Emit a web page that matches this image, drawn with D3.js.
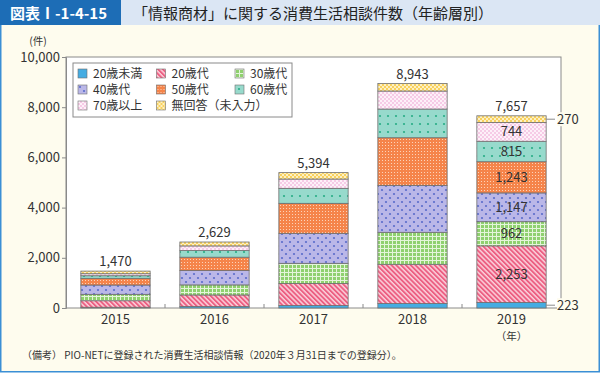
<!DOCTYPE html>
<html>
<head>
<meta charset="utf-8">
<script src="https://cdn.jsdelivr.net/npm/d3@7"></script>
<style>
  body { margin: 0; background: #ffffff; }
  text { font-family: "Noto Sans CJK JP", "Noto Sans", sans-serif; }
</style>
</head>
<body>
<div id="chart"></div>
<script>
// Chart data
var years = ["2015", "2016", "2017", "2018", "2019"];
var totals = [1470, 2629, 5394, 8943, 7657];
var under20 = [30, 60, 100, 180, 223];
var age20s = [260, 460, 880, 1560, 2253];
var age30s = [255, 400, 800, 1275, 962];
var age40s = [370, 570, 1195, 1872, 1147];
var age50s = [267, 534, 1195, 1897, 1243];
var age60s = [104, 263, 598, 1143, 815];
var age70plus = [80, 187, 370, 717, 744];
var noAnswer = [104, 155, 256, 299, 270];
var seriesNames = ["20歳未満", "20歳代", "30歳代", "40歳代", "50歳代", "60歳代", "70歳以上", "無回答（未入力）"];
var yTicks = [0, 2000, 4000, 6000, 8000, 10000];

var seriesValues = [under20, age20s, age30s, age40s, age50s, age60s, age70plus, noAnswer];
var fills = ["#45ace2", "url(#p20)", "url(#p30)", "url(#p40)", "url(#p50)", "url(#p60)", "url(#p70)", "url(#pna)"];

// SVG area
var svgWidth = 600;
var svgHeight = 374;

var svg = d3.select("#chart")
  .append("svg")
  .attr("width", svgWidth)
  .attr("height", svgHeight);

var defs = svg.append("defs");

// pink diagonal stripes
var p20 = defs.append("pattern").attr("id", "p20").attr("patternUnits", "userSpaceOnUse")
  .attr("width", 3.4).attr("height", 3.4).attr("patternTransform", "rotate(-45)");
p20.append("rect").attr("width", 3.4).attr("height", 3.4).attr("fill", "#fbd0db");
p20.append("rect").attr("width", 1.9).attr("height", 3.4).attr("fill", "#ec5f82");

// green gingham
var p30 = defs.append("pattern").attr("id", "p30").attr("patternUnits", "userSpaceOnUse")
  .attr("width", 4).attr("height", 4);
p30.append("rect").attr("width", 4).attr("height", 4).attr("fill", "#8fd06f");
p30.append("rect").attr("width", 4).attr("height", 1).attr("fill", "#e4f5da");
p30.append("rect").attr("width", 1).attr("height", 4).attr("fill", "#e4f5da");

// lavender with blue dots
var p40 = defs.append("pattern").attr("id", "p40").attr("patternUnits", "userSpaceOnUse")
  .attr("width", 8).attr("height", 8);
p40.append("rect").attr("width", 8).attr("height", 8).attr("fill", "#bab7e8");
p40.append("circle").attr("cx", 2).attr("cy", 2).attr("r", 1.1).attr("fill", "#5a6ccb");
p40.append("circle").attr("cx", 6).attr("cy", 6).attr("r", 1.1).attr("fill", "#5a6ccb");

// orange with fine white dots
var p50 = defs.append("pattern").attr("id", "p50").attr("patternUnits", "userSpaceOnUse")
  .attr("width", 3).attr("height", 3);
p50.append("rect").attr("width", 3).attr("height", 3).attr("fill", "#f5844a");
p50.append("rect").attr("x", 1).attr("y", 1).attr("width", 1).attr("height", 1).attr("fill", "#fcd2b8");

// teal with green dots
var p60 = defs.append("pattern").attr("id", "p60").attr("patternUnits", "userSpaceOnUse")
  .attr("width", 8).attr("height", 8);
p60.append("rect").attr("width", 8).attr("height", 8).attr("fill", "#97dacc");
p60.append("circle").attr("cx", 4).attr("cy", 4).attr("r", 1.1).attr("fill", "#27ad86");

// light pink with white pattern
var p70 = defs.append("pattern").attr("id", "p70").attr("patternUnits", "userSpaceOnUse")
  .attr("width", 4).attr("height", 4);
p70.append("rect").attr("width", 4).attr("height", 4).attr("fill", "#f6cbe6");
p70.append("rect").attr("x", 0).attr("y", 0).attr("width", 2).attr("height", 2).attr("fill", "#fdf0f8");
p70.append("rect").attr("x", 2).attr("y", 2).attr("width", 2).attr("height", 2).attr("fill", "#fdf0f8");

// yellow with white checks
var pna = defs.append("pattern").attr("id", "pna").attr("patternUnits", "userSpaceOnUse")
  .attr("width", 4).attr("height", 4);
pna.append("rect").attr("width", 4).attr("height", 4).attr("fill", "#f8d15e");
pna.append("rect").attr("x", 0).attr("y", 0).attr("width", 2).attr("height", 2).attr("fill", "#fdf0c4");
pna.append("rect").attr("x", 2).attr("y", 2).attr("width", 2).attr("height", 2).attr("fill", "#fdf0c4");

// Background panel and title bar
svg.append("rect")
  .attr("x", 0.75).attr("y", 0.75)
  .attr("width", svgWidth - 1.5).attr("height", svgHeight - 3)
  .attr("fill", "#fefcee")
  .attr("stroke", "#3b8fd5").attr("stroke-width", 1.5);

svg.append("rect").attr("x", 0).attr("y", 0).attr("width", svgWidth).attr("height", 25).attr("fill", "#dbe6f4");
svg.append("rect").attr("x", 0).attr("y", 0).attr("width", 121).attr("height", 25).attr("fill", "#1d6db6");

svg.append("text")
  .attr("x", 10).attr("y", 19)
  .attr("fill", "#ffffff")
  .attr("font-size", 15)
  .attr("font-weight", "bold")
  .text("図表Ⅰ-1-4-15");

svg.append("text")
  .attr("x", 133).attr("y", 19)
  .attr("fill", "#222222")
  .attr("font-size", 15)
  .text("「情報商材」に関する消費生活相談件数（年齢層別）");

// Plot area
var plot = { left: 66, right: 561, top: 57, bottom: 308 };

svg.append("rect")
  .attr("x", plot.left).attr("y", plot.top)
  .attr("width", plot.right - plot.left).attr("height", plot.bottom - plot.top)
  .attr("fill", "#ffffff")
  .attr("stroke", "#8a8a8a").attr("stroke-width", 1);

var xScale = d3.scaleBand()
  .domain(years)
  .range([plot.left, plot.right])
  .paddingInner(0.3)
  .paddingOuter(0.15);

var yScale = d3.scaleLinear()
  .domain([0, 10000])
  .range([plot.bottom, plot.top]);

// y axis
var yAxis = svg.append("g")
  .attr("transform", `translate(${plot.left}, 0)`)
  .call(d3.axisLeft(yScale).tickValues(yTicks).tickSize(4).tickFormat(d3.format(",")));

yAxis.select(".domain").attr("stroke", "#8a8a8a");
yAxis.selectAll(".tick line").attr("stroke", "#8a8a8a");
yAxis.selectAll(".tick text")
  .attr("font-size", 13)
  .attr("fill", "#333333")
  .attr("x", -6)
  .attr("font-family", "'Noto Sans CJK JP', sans-serif");

svg.append("text")
  .attr("x", 38).attr("y", 45)
  .attr("text-anchor", "middle")
  .attr("font-size", 10.5)
  .attr("fill", "#333333")
  .text("(件)");

// x axis separators between categories
svg.append("g")
  .selectAll("line")
  .data(years.slice(1))
  .enter()
  .append("line")
  .attr("x1", d => xScale(d) - xScale.step() * xScale.paddingInner() / 2)
  .attr("x2", d => xScale(d) - xScale.step() * xScale.paddingInner() / 2)
  .attr("y1", plot.bottom)
  .attr("y2", plot.bottom - 4)
  .attr("stroke", "#8a8a8a");

svg.append("g")
  .selectAll("text")
  .data(years)
  .enter()
  .append("text")
  .attr("x", d => xScale(d) + xScale.bandwidth() / 2)
  .attr("y", 324)
  .attr("text-anchor", "middle")
  .attr("font-size", 13)
  .attr("fill", "#333333")
  .text(d => d);

svg.append("text")
  .attr("x", xScale("2019") + xScale.bandwidth() / 2)
  .attr("y", 340)
  .attr("text-anchor", "middle")
  .attr("font-size", 10.5)
  .attr("fill", "#333333")
  .text("（年）");

// stacked bars
var stackRows = years.map(function(year, i) {
  var row = { year: year };
  seriesNames.forEach(function(name, s) { row[name] = seriesValues[s][i]; });
  return row;
});

var stacked = d3.stack().keys(seriesNames)(stackRows);

var layers = svg.append("g")
  .selectAll("g")
  .data(stacked)
  .enter()
  .append("g")
  .attr("fill", (d, i) => fills[i]);

layers.selectAll("rect")
  .data(d => d)
  .enter()
  .append("rect")
  .attr("x", d => xScale(d.data.year))
  .attr("y", d => yScale(d[1]))
  .attr("width", xScale.bandwidth())
  .attr("height", d => yScale(d[0]) - yScale(d[1]))
  .attr("stroke", "#6f6f6f")
  .attr("stroke-width", 0.8);

// totals above bars
svg.append("g")
  .selectAll("text")
  .data(years)
  .enter()
  .append("text")
  .attr("x", d => xScale(d) + xScale.bandwidth() / 2)
  .attr("y", (d, i) => yScale(totals[i]) - 5)
  .attr("text-anchor", "middle")
  .attr("font-size", 13)
  .attr("fill", "#333333")
  .text((d, i) => d3.format(",")(totals[i]));

// value labels inside the 2019 bar
var last = years.length - 1;
var insideLayers = stacked.slice(1, 7);

svg.append("g")
  .selectAll("text")
  .data(insideLayers)
  .enter()
  .append("text")
  .attr("x", xScale(years[last]) + xScale.bandwidth() / 2)
  .attr("y", d => yScale((d[last][0] + d[last][1]) / 2) + 4.5)
  .attr("text-anchor", "middle")
  .attr("font-size", 13)
  .attr("fill", "#333333")
  .text(d => d3.format(",")(d[last][1] - d[last][0]));

// outside labels for the thin 2019 segments
var outsideLayers = [stacked[7], stacked[0]];
var barRight = xScale(years[last]) + xScale.bandwidth();

var outside = svg.append("g")
  .selectAll("g")
  .data(outsideLayers)
  .enter()
  .append("g");

outside.append("rect")
  .attr("x", 557)
  .attr("y", d => yScale((d[last][0] + d[last][1]) / 2) - 7)
  .attr("width", 22)
  .attr("height", 14)
  .attr("fill", "#fefcee");

outside.append("line")
  .attr("x1", barRight)
  .attr("x2", 555)
  .attr("y1", d => yScale((d[last][0] + d[last][1]) / 2))
  .attr("y2", d => yScale((d[last][0] + d[last][1]) / 2))
  .attr("stroke", "#8a8a8a");

outside.append("text")
  .attr("x", 557)
  .attr("y", d => yScale((d[last][0] + d[last][1]) / 2) + 4.5)
  .attr("font-size", 13)
  .attr("fill", "#333333")
  .text(d => d3.format(",")(d[last][1] - d[last][0]));

// legend
var legend = svg.append("g");

legend.append("rect")
  .attr("x", 73).attr("y", 63)
  .attr("width", 219).attr("height", 54)
  .attr("fill", "#ffffff")
  .attr("stroke", "#8a8a8a");

var legendItems = legend.selectAll("g")
  .data(seriesNames)
  .enter()
  .append("g")
  .attr("transform", (d, i) => `translate(${78 + (i % 3) * 78.5}, ${69 + Math.floor(i / 3) * 16})`);

legendItems.append("rect")
  .attr("width", 9).attr("height", 9)
  .attr("fill", (d, i) => fills[i])
  .attr("stroke", "#6f6f6f")
  .attr("stroke-width", 0.6);

legendItems.append("text")
  .attr("x", 15).attr("y", 9)
  .attr("font-size", 12)
  .attr("fill", "#333333")
  .text(d => d);

// footnote
svg.append("text")
  .attr("x", 22).attr("y", 359)
  .attr("font-size", 10)
  .attr("fill", "#333333")
  .text("（備考） PIO-NETに登録された消費生活相談情報（2020年３月31日までの登録分）。");
</script>
</body>
</html>
